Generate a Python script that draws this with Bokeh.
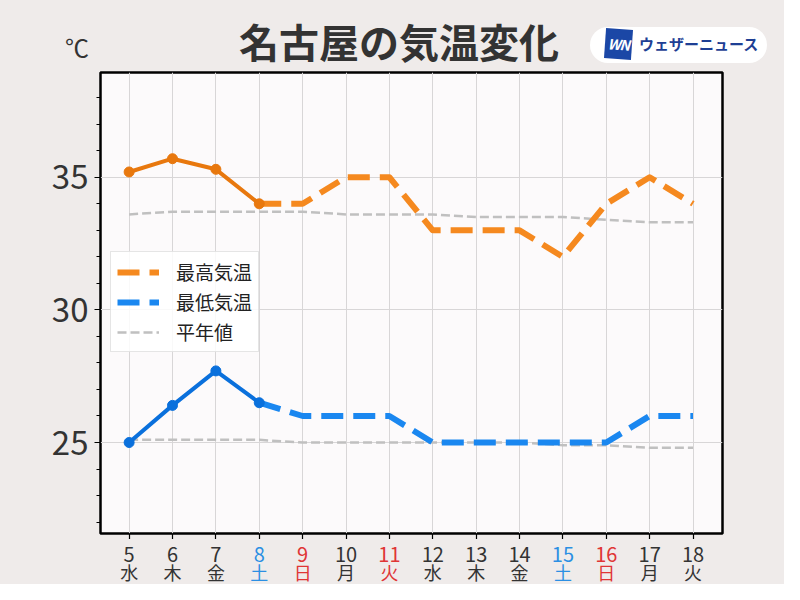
from bokeh.plotting import figure
from bokeh.models import (Range1d, SingleIntervalTicker, FixedTicker, Div,
                          ColumnDataSource, Legend, LegendItem)
from bokeh.layouts import column
from bokeh.embed import file_html
from bokeh.resources import INLINE
from bokeh.core.properties import value

# ---------------- data ----------------
days = [5, 6, 7, 8, 9, 10, 11, 12, 13, 14, 15, 16, 17, 18]
weekdays = ["水", "木", "金", "土", "日", "月", "火", "水", "木", "金", "土", "日", "月", "火"]
day_kind = ["", "", "", "sat", "sun", "", "hol", "", "", "", "sat", "sun", "", ""]
high = [35.2, 35.7, 35.3, 34.0, 34.0, 35.0, 35.0, 33.0, 33.0, 33.0, 32.0, 34.0, 35.0, 34.0]
low = [25.0, 26.4, 27.7, 26.5, 26.0, 26.0, 26.0, 25.0, 25.0, 25.0, 25.0, 25.0, 26.0, 26.0]
normal_high = [33.6, 33.7, 33.7, 33.7, 33.7, 33.6, 33.6, 33.6, 33.5, 33.5, 33.5, 33.4, 33.3, 33.3]
normal_low = [25.1, 25.1, 25.1, 25.1, 25.0, 25.0, 25.0, 25.0, 25.0, 25.0, 24.9, 24.9, 24.8, 24.8]
n_obs = 4  # observed days (5-8); the rest are forecast
title_text = "名古屋の気温変化"
unit_text = "℃"
brand_text = "ウェザーニュース"
legend_labels = ["最高気温", "最低気温", "平年値"]

FONT = "Noto Sans CJK JP"
BG = "#efebea"
W = 784
HEADER_H = 70
ML, MR = 100, 62
MAIN_BOTTOM = 6
FOOTER_H = 584 - HEADER_H - (2 + 461 + MAIN_BOTTOM)

# ---------------- header (title, unit, logo) ----------------
header_html = f"""
<div style="position:relative;width:{W}px;height:{HEADER_H}px;background:{BG};
            font-family:'{FONT}';overflow:hidden;margin:0;padding:0;">
  <div style="position:absolute;left:0;top:11px;width:798px;text-align:center;
              font-size:40px;font-weight:bold;line-height:60px;color:#333333;
              white-space:nowrap;">{title_text}</div>
  <div style="position:absolute;left:60px;top:32px;width:34px;text-align:center;
              font-size:24px;line-height:30px;color:#333333;">{unit_text}</div>
  <div style="position:absolute;left:590px;top:27px;width:177px;height:36px;
              border-radius:18px;background:#ffffff;"></div>
  <div style="position:absolute;left:605px;top:29px;width:27px;height:30px;
              background:#1b47a6;transform:rotate(4deg);color:#ffffff;
              font-size:14px;font-weight:bold;font-style:italic;text-align:center;
              line-height:30px;letter-spacing:-1px;">WN</div>
  <div style="position:absolute;left:639px;top:26px;height:36px;line-height:36px;
              font-size:15px;font-weight:bold;color:#1e3f94;white-space:nowrap;">{brand_text}</div>
</div>
"""
hd = Div(text=header_html, width=W, height=HEADER_H, margin=0,
         styles={"background-color": BG, "margin": "0", "padding": "0"})

# ---------------- main plot ----------------
Y0, Y1 = 21.57, 38.95
p = figure(width=W, height=2 + 461 + MAIN_BOTTOM, output_backend="svg", toolbar_location=None,
           x_range=Range1d(4.34, 18.68), y_range=Range1d(Y0, Y1),
           min_border_left=ML, min_border_right=MR, min_border_top=2,
           min_border_bottom=MAIN_BOTTOM)
p.background_fill_color = "#fcfafb"
p.border_fill_color = BG
p.outline_line_color = "black"
p.outline_line_width = 2.5

p.xgrid.ticker = FixedTicker(ticks=days)
p.xgrid.grid_line_color = "#d8d6d7"
p.ygrid.grid_line_color = "#d8d6d7"

p.yaxis.ticker = SingleIntervalTicker(interval=5, num_minor_ticks=5)
p.yaxis.axis_line_color = None
p.yaxis.major_tick_in = 0
p.yaxis.major_tick_out = 6
p.yaxis.minor_tick_in = 0
p.yaxis.minor_tick_out = 4
p.yaxis.major_tick_line_color = "black"
p.yaxis.minor_tick_line_color = "black"
p.yaxis.major_label_text_font = FONT
p.yaxis.major_label_text_font_size = "33px"
p.yaxis.major_label_text_color = "#333333"
p.yaxis.major_label_standoff = 6

# x axis: tick marks only (labels are drawn in the footer with weekday colours)
p.xaxis.ticker = FixedTicker(ticks=[], minor_ticks=days)
p.xaxis.axis_line_color = None
p.xaxis.major_tick_line_color = None
p.xaxis.minor_tick_in = 0
p.xaxis.minor_tick_out = 6
p.xaxis.minor_tick_line_color = "black"
p.xaxis.minor_tick_line_width = 1.2

rn1 = p.line(days, normal_high, line_color="#c0c0c0", line_width=2.5, line_dash="9 4")
rn2 = p.line(days, normal_low, line_color="#c0c0c0", line_width=2.5, line_dash="9 4")

rh = p.line(days[n_obs - 1:], high[n_obs - 1:], line_color="#f5891f", line_width=6,
            line_dash="22 10", line_join="round")
rl = p.line(days[n_obs - 1:], low[n_obs - 1:], line_color="#1a87f0", line_width=6,
            line_dash="22 10", line_join="round")

p.line(days[:n_obs], high[:n_obs], line_color="#e8780e", line_width=4)
p.scatter(days[:n_obs], high[:n_obs], size=10, color="#e8780e")
p.line(days[:n_obs], low[:n_obs], line_color="#0a70dc", line_width=4)
p.scatter(days[:n_obs], low[:n_obs], size=10, color="#0a70dc")

legend = Legend(items=[LegendItem(label=legend_labels[0], renderers=[rh]),
                       LegendItem(label=legend_labels[1], renderers=[rl]),
                       LegendItem(label=legend_labels[2], renderers=[rn1])],
                location=(10, 181))
legend.label_text_font = FONT
legend.label_text_font_size = "19px"
legend.label_text_color = "#222222"
legend.glyph_width = 42
legend.glyph_height = 22
legend.label_height = 22
legend.label_standoff = 17
legend.spacing = 3
legend.padding = 6
legend.margin = 0
legend.border_line_color = "#cccccc"
legend.background_fill_color = "white"
legend.background_fill_alpha = 0.85
p.add_layout(legend, "center")

# ---------------- footer (two-row x labels) ----------------
ft = figure(width=W, height=FOOTER_H, output_backend="svg", toolbar_location=None,
            x_range=p.x_range, y_range=Range1d(FOOTER_H, 0),
            x_axis_location=None, y_axis_location=None,
            min_border_left=ML, min_border_right=MR, min_border_top=0, min_border_bottom=0)
ft.background_fill_color = BG
ft.border_fill_color = BG
ft.outline_line_color = None
ft.grid.visible = False
kind_color = {"": "#333333", "sat": "#2b8fe3", "sun": "#e03535", "hol": "#e03535"}
src = ColumnDataSource(dict(x=days, d=[str(d) for d in days], w=weekdays,
                            c=[kind_color[k] for k in day_kind]))
ft.text(x="x", y=15, text="d", source=src, text_color="c", text_align="center",
        text_baseline="middle", text_font=value(FONT), text_font_size="20px")
ft.text(x="x", y=32, text="w", source=src, text_color="c", text_align="center",
        text_baseline="middle", text_font=value(FONT), text_font_size="18px")

layout = column(hd, p, ft, spacing=0, styles={"background-color": BG})
html = file_html(layout, INLINE)
html = html.replace("<body>", '<body style="background-color:%s">' % BG, 1)
open("out.html", "w").write(html)
